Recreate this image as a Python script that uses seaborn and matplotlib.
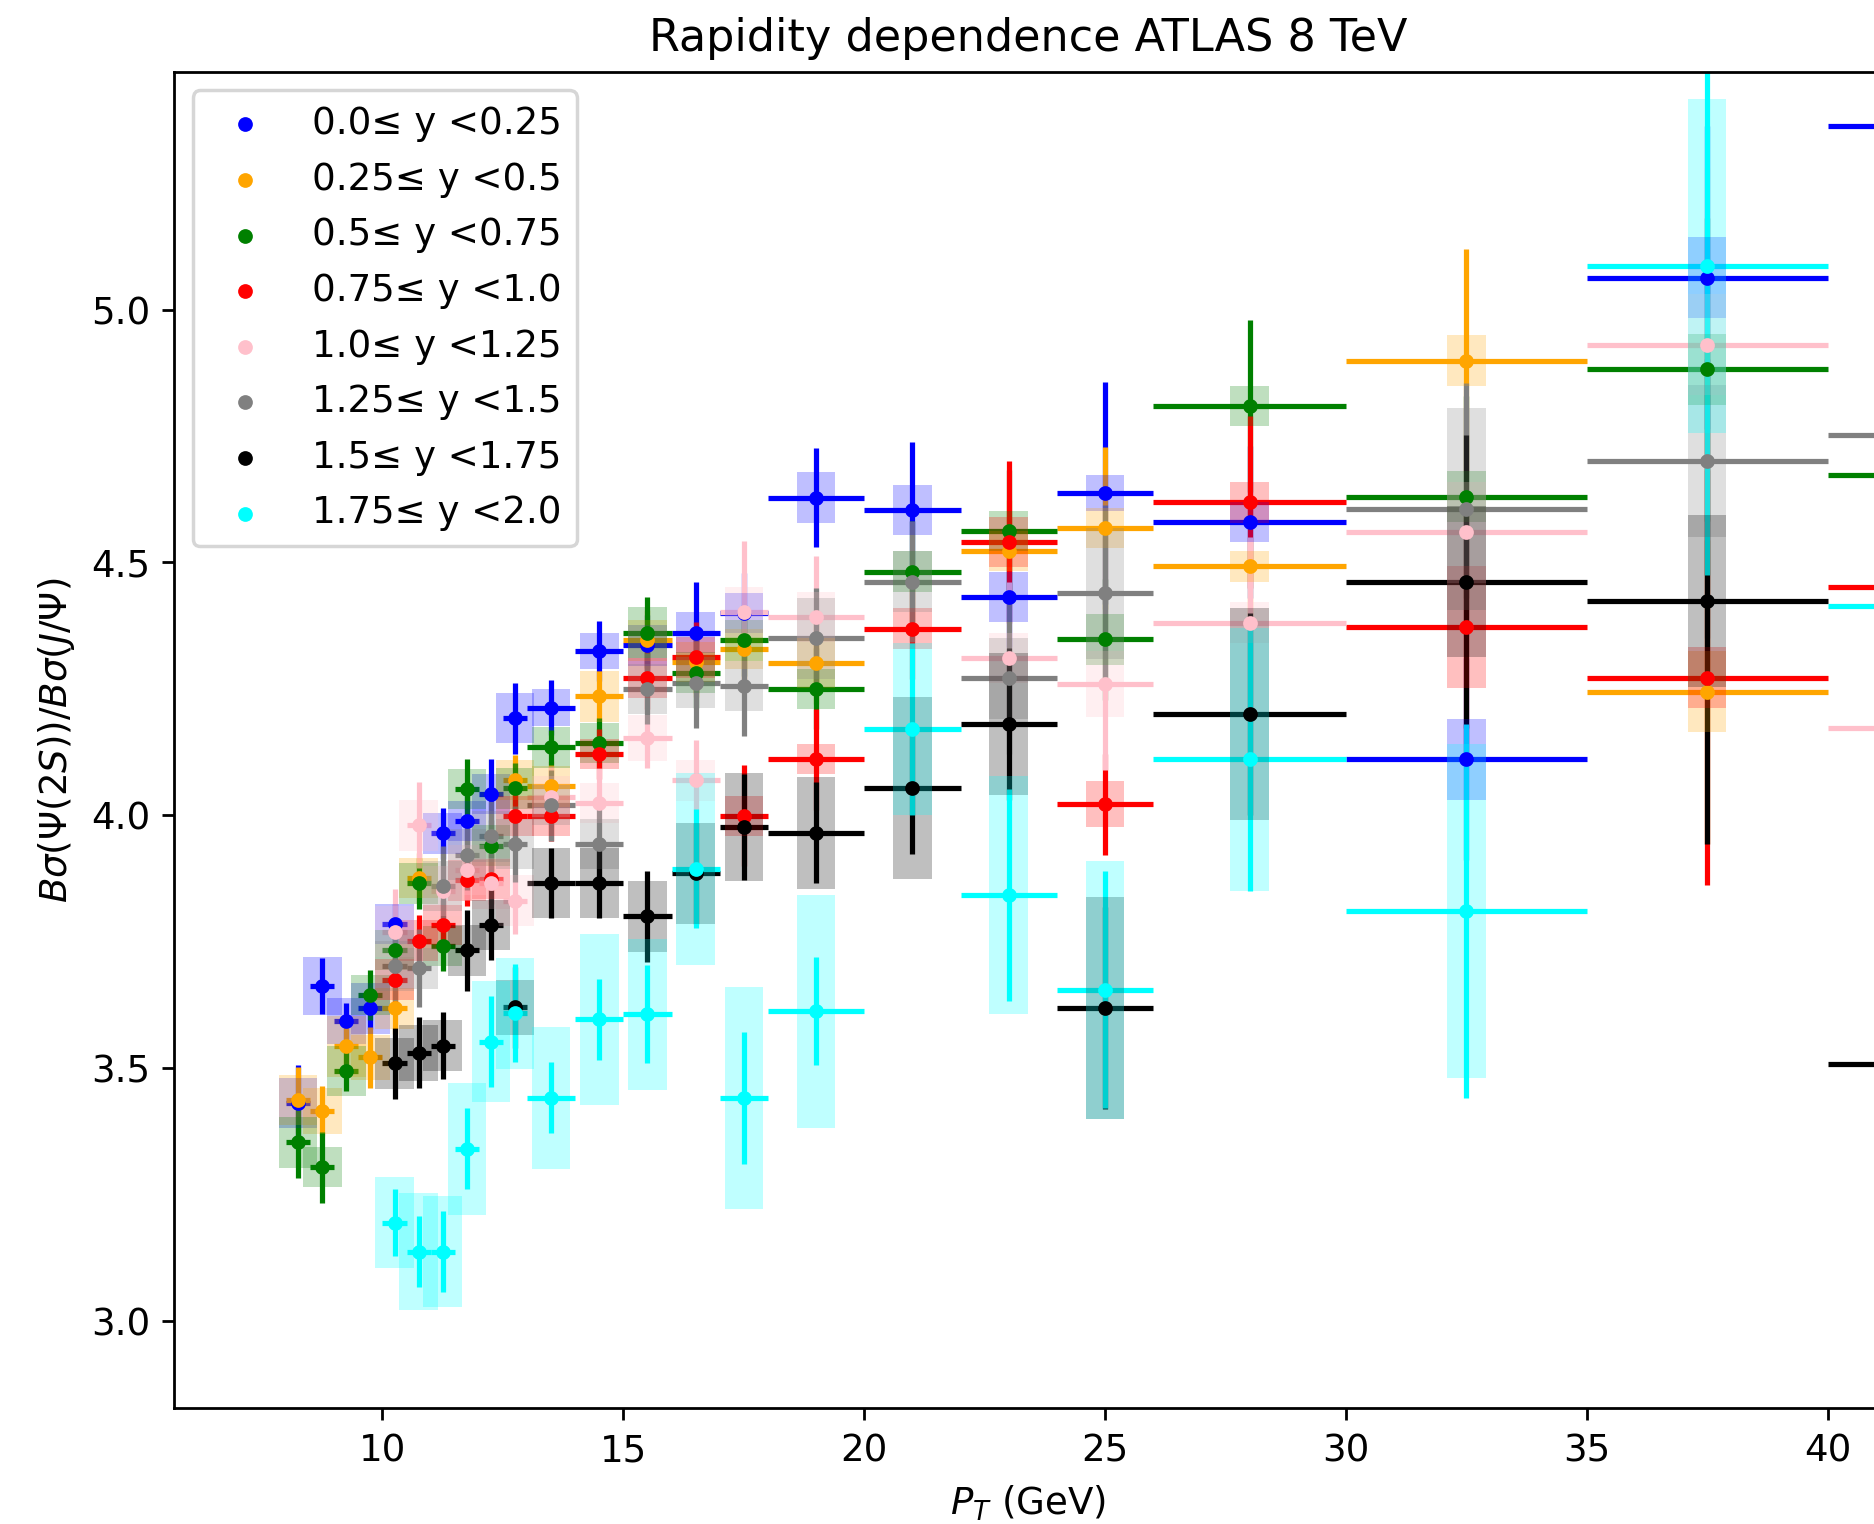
import numpy as np
import matplotlib
matplotlib.use("Agg")
import matplotlib.pyplot as plt
import seaborn as sns

# pT bin edges (GeV)
pt_edges = [8, 8.5, 9, 9.5, 10, 10.5, 11, 11.5, 12, 12.5, 13, 14, 15, 16, 17, 18,
            20, 22, 24, 26, 30, 35, 40, 60]

labels = ["0.0≤ y <0.25", "0.25≤ y <0.5", "0.5≤ y <0.75", "0.75≤ y <1.0",
          "1.0≤ y <1.25", "1.25≤ y <1.5", "1.5≤ y <1.75", "1.75≤ y <2.0"]
colors = ["blue", "orange", "green", "red", "pink", "gray", "black", "cyan"]

blue_pt = [8.25, 8.75, 9.25, 9.75, 10.25, 11.25, 11.75, 12.25, 12.75, 13.5, 14.5, 15.5,
           16.5, 17.5, 19, 21, 23, 25, 28, 32.5, 37.5, 50]
blue_y = [3.431, 3.662, 3.593, 3.618, 3.785, 3.964, 3.989, 4.042, 4.192, 4.213, 4.325, 4.336,
          4.361, 4.40, 4.628, 4.604, 4.432, 4.637, 4.580, 4.111, 5.063, 5.364]
blue_stat = [.075, .055, .035, .04, .04, .05, .05, .07, .07, .055, .06, .06,
             .10, .08, .098, .135, .10, .22, .15, .20, .30, .40]
blue_syst = [.05, .057, .045, .05, .04, .04, .04, .04, .05, .037, .036, .04,
             .04, .04, .05, .05, .05, .036, .04, .08, .08, .10]

orange_pt = [8.25, 8.75, 9.25, 9.75, 10.25, 10.75, 12.75, 13.5, 14.5, 15.5, 16.5, 17.5,
             19, 23, 25, 28, 32.5, 37.5]
orange_y = [3.437, 3.415, 3.543, 3.521, 3.618, 3.876, 4.070, 4.057, 4.235, 4.346, 4.303, 4.329,
            4.301, 4.523, 4.568, 4.492, 4.899, 4.244]
orange_stat = [.065, .05, .04, .06, .05, .05, .05, .05, .05, .06, .07, .07,
               .08, .10, .16, .12, .22, .30]
orange_syst = [.05, .045, .06, .045, .04, .04, .04, .04, .05, .04, .04, .04,
               .05, .04, .04, .03, .05, .08]

green_pt = [8.25, 8.75, 9.25, 9.75, 10.25, 10.75, 11.25, 11.75, 12.25, 12.75, 13.5, 14.5,
            15.5, 16.5, 17.5, 19, 21, 23, 25, 28, 32.5, 37.5, 50]
green_y = [3.353, 3.304, 3.494, 3.644, 3.733, 3.865, 3.741, 4.052, 3.940, 4.053, 4.134, 4.143,
           4.361, 4.282, 4.346, 4.250, 4.482, 4.562, 4.348, 4.809, 4.630, 4.882, 4.672]
green_stat = [.07, .07, .04, .05, .05, .05, .05, .06, .05, .05, .035, .05,
              .07, .07, .07, .08, .10, .12, .12, .17, .20, .30, .40]
green_syst = [.05, .04, .05, .04, .04, .04, .04, .04, .04, .04, .04, .04,
              .05, .04, .04, .04, .04, .04, .05, .04, .05, .07, .10]

red_pt = [10.25, 10.75, 11.25, 11.75, 12.25, 12.75, 13.5, 14.5, 15.5, 16.5, 17.5, 19,
          21, 23, 25, 28, 32.5, 37.5, 50]
red_y = [3.675, 3.752, 3.783, 3.871, 3.874, 3.999, 3.999, 4.121, 4.271, 4.312, 3.999, 4.111,
         4.369, 4.540, 4.022, 4.619, 4.372, 4.272, 4.451]
red_stat = [.05, .05, .05, .05, .05, .05, .05, .05, .06, .07, .10, .10,
            .10, .16, .10, .17, .25, .41, .40]
red_syst = [.04, .04, .04, .04, .04, .04, .04, .03, .04, .04, .04, .03,
            .04, .05, .045, .04, .12, .06, .10]

pink_pt = [10.25, 10.75, 11.25, 11.75, 12.25, 12.75, 13.5, 14.5, 15.5, 16.5, 17.5, 19,
           23, 25, 28, 32.5, 37.5, 50]
pink_y = [3.770, 3.980, 3.850, 3.892, 3.865, 3.831, 4.037, 4.024, 4.153, 4.069, 4.402, 4.392,
          4.311, 4.259, 4.381, 4.560, 4.931, 4.172]
pink_stat = [.085, .085, .06, .06, .06, .065, .06, .07, .06, .08, .14, .12,
             .15, .17, .17, .25, .35, .40]
pink_syst = [.05, .05, .05, .05, .05, .05, .04, .04, .045, .04, .05, .05,
             .05, .065, .04, .10, .10, .10]

gray_pt = [10.25, 10.75, 11.25, 11.75, 12.25, 12.75, 13.5, 14.5, 15.5, 16.5, 17.5, 19,
           21, 23, 25, 32.5, 37.5, 50]
gray_y = [3.702, 3.697, 3.860, 3.922, 3.958, 3.943, 4.020, 3.943, 4.250, 4.262, 4.256, 4.350,
          4.462, 4.271, 4.439, 4.605, 4.701, 4.752]
gray_stat = [.07, .077, .08, .07, .07, .075, .07, .07, .07, .09, .10, .10,
             .12, .15, .175, .25, .35, .40]
gray_syst = [.05, .04, .05, .05, .05, .05, .04, .05, .05, .05, .05, .08,
             .06, .08, .13, .20, .15, .15]

black_pt = [10.25, 10.75, 11.25, 11.75, 12.25, 12.75, 13.5, 14.5, 15.5, 16.5, 17.5, 19,
            21, 23, 25, 28, 32.5, 37.5, 50]
black_y = [3.509, 3.530, 3.544, 3.733, 3.783, 3.620, 3.866, 3.866, 3.800, 3.885, 3.976, 3.965,
           4.053, 4.180, 3.619, 4.200, 4.462, 4.423, 3.507]
black_stat = [.07, .07, .066, .08, .07, .08, .07, .07, .09, .10, .105, .10,
              .13, .15, .20, .20, .29, .48, .50]
black_syst = [.05, .055, .05, .05, .05, .055, .07, .07, .07, .10, .107, .11,
              .18, .14, .22, .21, .15, .17, .20]

cyan_pt = [10.25, 10.75, 11.25, 11.75, 12.25, 12.75, 13.5, 14.5, 15.5, 16.5, 17.5, 19,
           21, 23, 25, 28, 32.5, 37.5, 50]
cyan_y = [3.194, 3.137, 3.137, 3.340, 3.552, 3.608, 3.441, 3.596, 3.606, 3.894, 3.441, 3.612,
          4.170, 3.842, 3.655, 4.111, 3.811, 5.086, 4.414]
cyan_stat = [.066, .07, .08, .08, .09, .097, .07, .08, .097, .118, .13, .107,
             .17, .21, .235, .26, .37, .61, .60]
cyan_syst = [.09, .115, .11, .13, .12, .11, .14, .17, .15, .19, .22, .23,
             .17, .235, .255, .26, .33, .33, .40]

series = [
    (blue_pt, blue_y, blue_stat, blue_syst),
    (orange_pt, orange_y, orange_stat, orange_syst),
    (green_pt, green_y, green_stat, green_syst),
    (red_pt, red_y, red_stat, red_syst),
    (pink_pt, pink_y, pink_stat, pink_syst),
    (gray_pt, gray_y, gray_stat, gray_syst),
    (black_pt, black_y, black_stat, black_syst),
    (cyan_pt, cyan_y, cyan_stat, cyan_syst),
]


def half_width(c):
    for lo, hi in zip(pt_edges[:-1], pt_edges[1:]):
        if lo <= c < hi:
            return (hi - lo) / 2.0
    return 0.25


plt.rcParams["font.size"] = 10.7

DPI = 250
fig = plt.figure(figsize=(1874 / DPI, 1524 / DPI), dpi=DPI)
ax = fig.add_axes([0.0931, 0.0761, 0.9107, 0.8768])

for (pt, y, st, sy), col, lab in zip(series, colors, labels):
    pt = np.array(pt, float)
    y = np.array(y, float)
    st = np.array(st, float)
    sy = np.array(sy, float)
    hw = np.array([half_width(c) for c in pt])
    ax.errorbar(pt, y, xerr=hw, yerr=st, fmt="none", ecolor=col,
                elinewidth=1.5, capsize=0, zorder=2)
    ax.bar(pt, 2 * sy, bottom=y - sy, width=0.8, color=col, alpha=0.25,
           linewidth=0, zorder=2.5)
    sns.scatterplot(x=pt, y=y, color=col, s=18, linewidth=0, label=lab,
                    ax=ax, zorder=3, legend=False)

ax.set_xlim(5.682, 41.11)
ax.set_ylim(2.8275, 5.4705)
ax.set_xticks([10, 15, 20, 25, 30, 35, 40])
ax.set_yticks([3.0, 3.5, 4.0, 4.5, 5.0])
ax.set_title("Rapidity dependence ATLAS 8 TeV")
ax.set_xlabel(r"$P_T$ (GeV)")
ax.set_ylabel(r"$B\sigma(\Psi(2S))/B\sigma(J/\Psi)$")

handles, lbls = ax.get_legend_handles_labels()
ax.legend(handles, lbls, loc="upper left")

fig.savefig("out.png", dpi=DPI)
